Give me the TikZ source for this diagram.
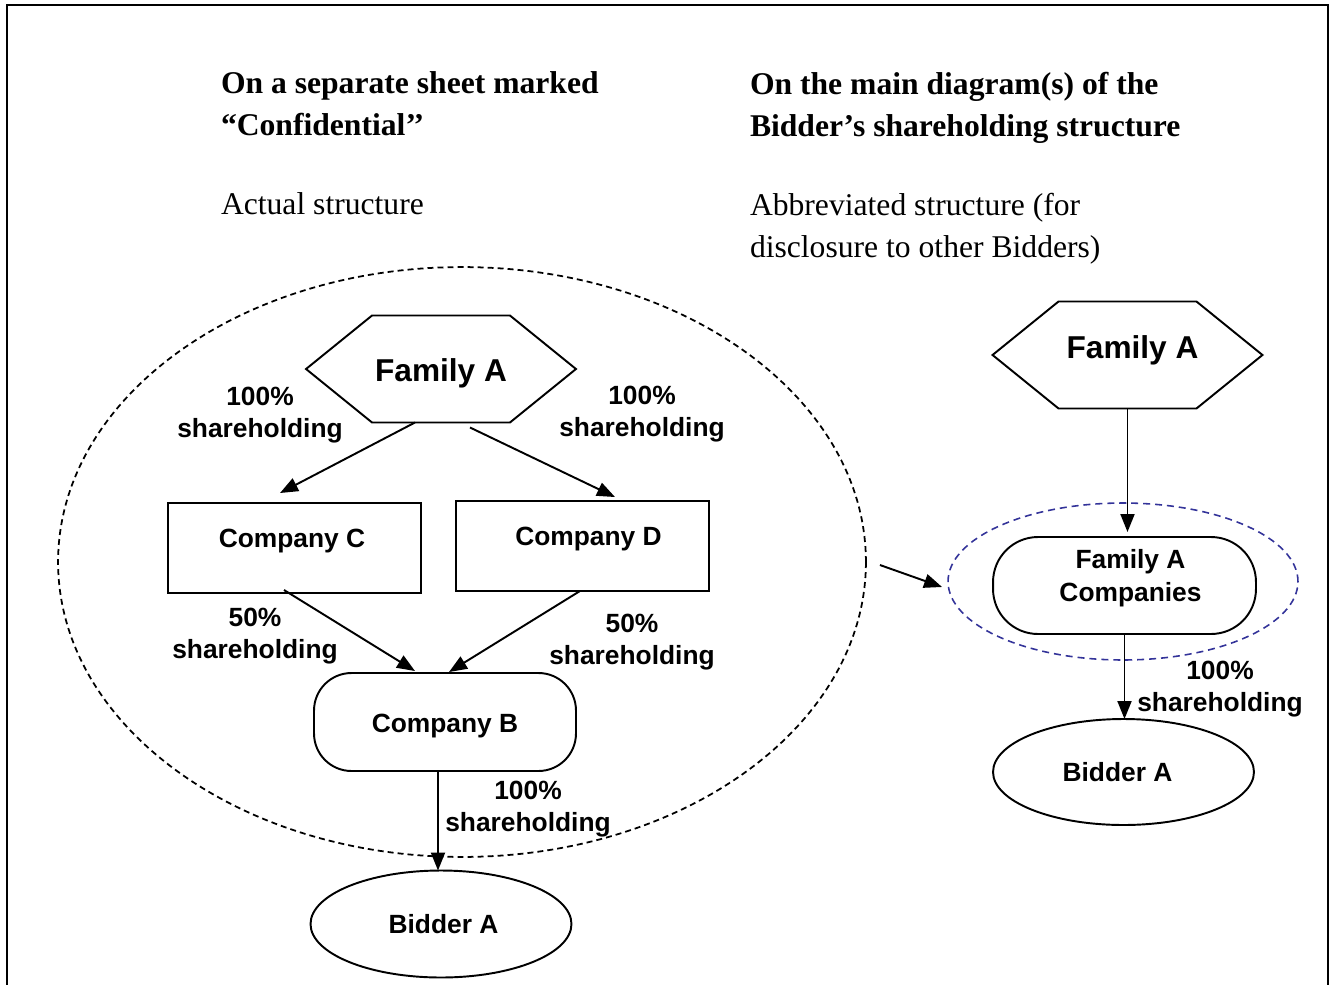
\documentclass[tikz,border=0pt]{standalone}
\usepackage{fontspec}
\setmainfont{Liberation Serif}
\setsansfont{Liberation Sans}
\usetikzlibrary{shapes.geometric,arrows.meta,calc}
\definecolor{grpblue}{RGB}{51,51,153}
% hexagon round a plain node
\newcommand\hexa[1]{\draw[line width=1.1pt] ($(#1.north west)+(66,0)$) -- ($(#1.north east)+(-66,0)$) -- (#1.east)
  -- ($(#1.south east)+(-66,0)$) -- ($(#1.south west)+(66,0)$) -- (#1.west) -- cycle;}
\newcommand\up[2]{\raisebox{#1}[\height][\depth]{#2}}
\tikzset{
  every node/.style={outer sep=0pt},
  lbl/.style={font=\sffamily\bfseries\fontsize{15}{18.3}\selectfont, align=center},
  hdr/.style={font=\bfseries\fontsize{18}{23.8}\selectfont, align=left, anchor=north west, inner sep=0pt},
  note/.style={font=\fontsize{18}{23.8}\selectfont, align=left, anchor=north west, inner sep=0pt},
  hexbox/.style={font=\sffamily\bfseries\fontsize{18}{21}\selectfont, minimum width=5.4cm, minimum height=2.14cm},
  cobox/.style={lbl, draw, line width=1.1pt, minimum width=5.06cm, minimum height=1.8cm},
  pillbox/.style={lbl, draw, line width=1.1pt, rounded corners=0.75cm, minimum width=5.24cm, minimum height=1.96cm},
  ovalbox/.style={lbl, draw, ellipse, line width=1.1pt, minimum width=5.22cm, minimum height=2.14cm},
  arr/.style={line width=1.1pt, -{Triangle[length=0.36cm,width=0.28cm]}},
}
\begin{document}
\begin{tikzpicture}[x=0.02cm, y=-0.02cm]
  \useasboundingbox (0,0) rectangle (1332,984);
  \draw[line width=1.4pt] (7,990) -- (7,5) -- (1328,5) -- (1328,990);

  % headings
  \node[hdr] (hL) at (221,72) {On a separate sheet marked\\“Confidential’{}’};
  \node[hdr] (hR) at (750,72) {On the main diagram(s) of the\\Bidder’s shareholding structure};
  \node[note] (nL) at (221,193) {Actual structure};
  \node[note] (nR) at (750,193) {Abbreviated structure (for\\disclosure to other Bidders)};

  % actual structure
  \node[draw, ellipse, line width=1pt, dash pattern=on 3.4pt off 2.3pt, minimum width=16.16cm, minimum height=11.8cm] (grpL) at (462,562) {};
  \node[hexbox] (famL) at (441,369) {\up{-0.08cm}{Family A}};
  \hexa{famL}
  \node[cobox] (coC) at (294.5,548) {\up{0.14cm}{\hspace{-0.1cm}Company C}};
  \node[cobox] (coD) at (582.5,546) {\up{0.14cm}{\hspace{0.24cm}Company D}};
  \node[pillbox] (coB) at (445,722) {\up{-0.08cm}{Company B}};
  \node[ovalbox] (bidL) at (441,924) {\hspace{0.1cm}Bidder A};

  \node[lbl] (sh1) at (260,415) {100\%\\shareholding};
  \node[lbl] (sh2) at (642,414) {100\%\\shareholding};
  \node[lbl] (sh3) at (255,636) {50\%\\shareholding};
  \node[lbl] (sh4) at (632,642) {50\%\\shareholding};
  \node[lbl] (sh5) at (528,809) {100\%\\shareholding};

  \draw[arr] ([xshift=-0.52cm]famL.south) -- ([shift={(-0.29cm,0.2cm)}]coC.north);
  \draw[arr] ([shift={(0.58cm,-0.1cm)}]famL.south) -- ([shift={(0.65cm,0.08cm)}]coD.north);
  \draw[arr] ([shift={(-0.21cm,0.06cm)}]coC.south) -- ([shift={(-0.6cm,0.04cm)}]coB.north);
  \draw[arr] ([xshift=-0.05cm]coD.south) -- ([shift={(0.08cm,0.02cm)}]coB.north);
  \draw[arr] ([xshift=-0.14cm]coB.south) -- ([xshift=-0.14cm]coB.south |- bidL.north);

  % abbreviated structure
  \node[draw=grpblue, ellipse, line width=0.9pt, dash pattern=on 4pt off 2.8pt, minimum width=7cm, minimum height=3.14cm] (grpR) at (1123,581.5) {};
  \node[hexbox] (famR) at (1127.5,355) {\up{0.1cm}{\hspace{0.2cm}Family A}};
  \hexa{famR}
  \node[pillbox, minimum width=5.26cm, minimum height=1.94cm, rounded corners=0.9cm] (famAC) at (1124.5,585.5)
    {\up{0.14cm}{\hspace{0.24cm}\begin{tabular}{@{}c@{}}Family A\\Companies\end{tabular}}};
  \node[ovalbox, minimum height=2.12cm] (bidR) at (1123.5,772) {\hspace{-0.24cm}Bidder A};
  \node[lbl] (sh6) at (1220,689) {100\%\\shareholding};

  \draw[arr] (famR.south) -- ([yshift=0.1cm]famR.south |- famAC.north);
  \draw[arr] (famAC.south) -- (famAC.south |- bidR.north);
  \draw[arr] ([shift={(0.28cm,-0.06cm)}]grpL.east) -- ([shift={(-0.12cm,-0.11cm)}]grpR.west);
\end{tikzpicture}
\end{document}
